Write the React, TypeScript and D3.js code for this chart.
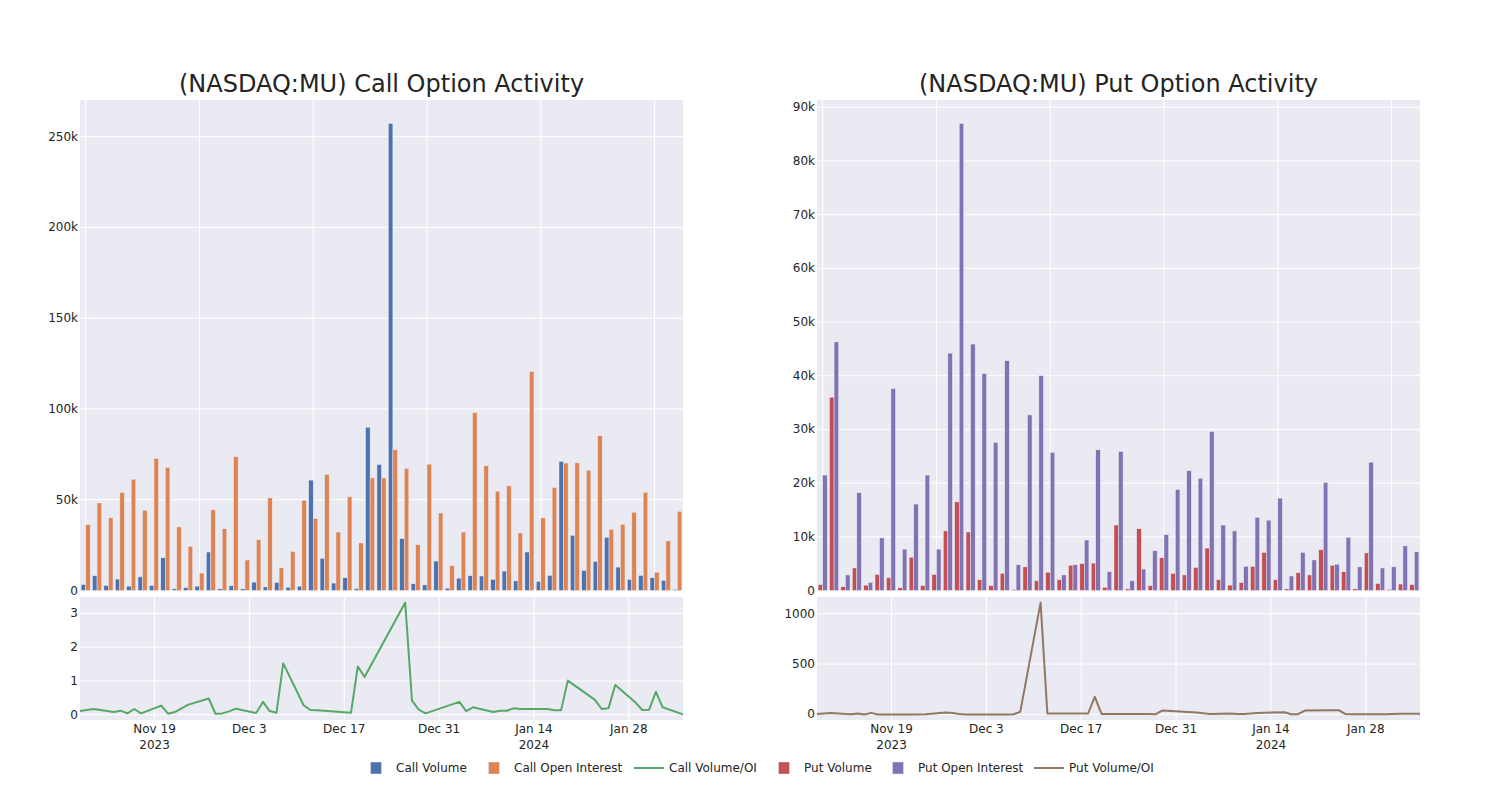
import React from 'react';
import * as d3 from 'd3';

// ---------- data ----------
const dates = [
  '2023-11-08', '2023-11-10', '2023-11-13', '2023-11-14', '2023-11-15', '2023-11-16', '2023-11-17',
  '2023-11-20', '2023-11-21', '2023-11-22', '2023-11-24', '2023-11-27', '2023-11-28', '2023-11-29',
  '2023-11-30', '2023-12-01', '2023-12-04', '2023-12-05', '2023-12-06', '2023-12-07', '2023-12-08',
  '2023-12-11', '2023-12-12', '2023-12-13', '2023-12-18', '2023-12-19', '2023-12-20', '2023-12-26',
  '2023-12-27', '2023-12-28', '2023-12-29', '2024-01-03', '2024-01-04', '2024-01-05', '2024-01-08',
  '2024-01-09', '2024-01-10', '2024-01-11', '2024-01-12', '2024-01-16', '2024-01-17', '2024-01-18',
  '2024-01-19', '2024-01-23', '2024-01-24', '2024-01-25', '2024-01-26', '2024-01-29', '2024-01-30',
  '2024-01-31', '2024-02-01', '2024-02-02', '2024-02-05',
];

const callVolume = [
  3300, 8100, 2800, 6300, 2400, 7500, 2800, 18000, 900, 1600, 2400, 21200, 900, 2600, 900, 4600,
  2000, 4400, 1800, 2400, 60800, 17700, 4100, 7000, 1100, 89900, 69400, 257300, 28500, 3700, 3100,
  16200, 1300, 6800, 8100, 8000, 6100, 10700, 5300, 21200, 5000, 8300, 71100, 30400, 11000, 16000,
  29300, 12900, 6100, 8300, 7000, 5500, 600,
];
const callOpenInterest = [
  36300, 48200, 40000, 54000, 61300, 44200, 72700, 67800, 35000, 24300, 9600, 44400, 34000, 73700,
  16800, 28000, 51000, 12500, 21500, 49700, 39600, 63900, 32200, 51600, 26200, 62000, 62000, 77500,
  67200, 25200, 69600, 42700, 13600, 32200, 98000, 68700, 54700, 57600, 31700, 120600, 40000, 56700,
  70200, 70300, 66300, 85300, 33700, 36500, 43100, 54100, 10100, 27300, 43600,
];
const callVolumeOI = [
  0.11, 0.17, 0.08, 0.12, 0.04, 0.17, 0.04, 0.27, 0.03, 0.08, 0.3, 0.48, 0.03, 0.04, 0.1, 0.18,
  0.05, 0.38, 0.11, 0.06, 1.52, 0.28, 0.14, 0.13, 0.06, 1.43, 1.12, 3.32, 0.42, 0.15, 0.04, 0.38,
  0.11, 0.22, 0.08, 0.12, 0.12, 0.19, 0.17, 0.17, 0.13, 0.13, 1.01, 0.44, 0.17, 0.19, 0.88, 0.36,
  0.14, 0.15, 0.68, 0.22, 0.01,
];
const putVolume = [
  1100, 36000, 700, 4200, 1000, 3000, 2400, 500, 6200, 900, 3000, 11100, 16500, 10900, 2000, 900,
  3200, 200, 4400, 1800, 3400, 2000, 4700, 5000, 5100, 600, 12200, 300, 11500, 900, 6100, 3200,
  2900, 4300, 7900, 2000, 1000, 1500, 4500, 7100, 2000, 300, 3300, 2900, 7600, 4700, 3500, 300,
  7000, 1300, 200, 1200, 1100,
];
const putOpenInterest = [
  21500, 46300, 2900, 18200, 1500, 9800, 37600, 7700, 16100, 21500, 7700, 44200, 87000, 45900,
  40400, 27600, 42800, 4800, 32700, 40000, 25700, 2900, 4800, 9400, 26200, 3500, 25900, 1800, 4000,
  7400, 10400, 18800, 22300, 20900, 29600, 12200, 11100, 4500, 13600, 13100, 17200, 2700, 7100, 5700,
  20100, 4900, 9900, 4400, 23900, 4200, 4400, 8300, 7200,
];
const putVolumeOI = [
  5, 15, 2, 10, 0, 15, 0, 0, 0, 0, 2, 20, 15, 5, 0, 0, 0, 0, 0, 2, 25, 1110, 10, 8, 8, 175, 5, 3,
  3, 2, 40, 20, 12, 3, 8, 3, 5, 10, 15, 22, 2, 2, 38, 42, 42, 3, 2, 1, 1, 2, 5, 6, 6,
];

const callYTicks = [0, 50000, 100000, 150000, 200000, 250000];
const putYTicks = [0, 10000, 20000, 30000, 40000, 50000, 60000, 70000, 80000, 90000];
const callRatioTicks = [0, 1, 2, 3];
const putRatioTicks = [0, 500, 1000];
const indexGridTicks = [0, 10, 20, 30, 40, 50];
const dateTicks = ['2023-11-19', '2023-12-03', '2023-12-17', '2023-12-31', '2024-01-14', '2024-01-28'];
const dateTickLabels = ['Nov 19', 'Dec 3', 'Dec 17', 'Dec 31', 'Jan 14', 'Jan 28'];
const dateTickYears = ['2023', '', '', '', '2024', ''];

const legendLabels = ['Call Volume', 'Call Open Interest', 'Call Volume/OI', 'Put Volume', 'Put Open Interest', 'Put Volume/OI'];

// ---------- style ----------
const FONT = '"DejaVu Sans", verdana, arial, sans-serif';
const TEXT = 'rgb(36,36,36)';
const BG = 'rgb(234,234,242)';
const COLORS = {
  callVol: 'rgb(76,114,176)',
  callOI: 'rgb(221,132,82)',
  callLine: 'rgb(85,168,104)',
  putVol: 'rgb(196,78,82)',
  putOI: 'rgb(129,114,179)',
  putLine: 'rgb(147,120,96)',
};

const parse = d3.utcParse('%Y-%m-%d');
const fmtK = d3.format('~s');

type PanelProps = {
  x0: number;
  x1: number;
  title: string;
  vol: number[];
  oi: number[];
  ratio: number[];
  yTicks: number[];
  rTicks: number[];
  volColor: string;
  oiColor: string;
  lineColor: string;
  ratioFmt: (v: number) => string;
};

const TOP_Y0 = 100;
const TOP_Y1 = 590.5;
const BOT_Y0 = 597;
const BOT_Y1 = 720;

function Panel(p: PanelProps) {
  const n = p.vol.length;
  const xi = d3.scaleLinear().domain([-0.5, n - 0.5]).range([p.x0, p.x1]);
  const maxV = d3.max([...p.vol, ...p.oi]) as number;
  const y = d3.scaleLinear().domain([0, maxV * 1.05]).range([TOP_Y1, TOP_Y0]);
  const parsed = dates.map((d) => parse(d) as Date);
  const xd = d3.scaleUtc().domain([parsed[0], parsed[parsed.length - 1]]).range([p.x0, p.x1]);
  const rMin = d3.min(p.ratio) as number;
  const rMax = d3.max(p.ratio) as number;
  const pad = (rMax - rMin) * 0.05;
  const yr = d3.scaleLinear().domain([rMin - pad, rMax + pad]).range([BOT_Y1, BOT_Y0]);
  const line = d3
    .line<number>()
    .x((_, i) => xd(parsed[i]))
    .y((v) => yr(v));
  const groupW = 0.8;
  const barW = groupW / 2;
  return (
    <g>
      <text
        x={(p.x0 + p.x1) / 2}
        y={92}
        textAnchor="middle"
        fontSize={24}
        fill={TEXT}
        fontFamily={FONT}
      >
        {p.title}
      </text>
      {/* top plot */}
      <rect x={p.x0} y={TOP_Y0} width={p.x1 - p.x0} height={TOP_Y1 - TOP_Y0} fill={BG} />
      {indexGridTicks.map((t) => (
        <line key={'vx' + t} x1={xi(t)} x2={xi(t)} y1={TOP_Y0} y2={TOP_Y1} stroke="white" strokeWidth={1} />
      ))}
      {p.yTicks.map((t) => (
        <g key={'yt' + t}>
          <line x1={p.x0} x2={p.x1} y1={y(t)} y2={y(t)} stroke="white" strokeWidth={1} />
          <text x={p.x0 - 2} y={y(t) + 4} textAnchor="end" fontSize={12} fill={TEXT} fontFamily={FONT}>
            {fmtK(t)}
          </text>
        </g>
      ))}
      {p.vol.map((v, i) => (
        <rect
          key={'v' + i}
          x={xi(i - groupW / 2)}
          width={xi(barW) - xi(0)}
          y={y(v)}
          height={y(0) - y(v)}
          fill={p.volColor}
          stroke={BG}
          strokeWidth={0.5}
        />
      ))}
      {p.oi.map((v, i) => (
        <rect
          key={'o' + i}
          x={xi(i - groupW / 2 + barW)}
          width={xi(barW) - xi(0)}
          y={y(v)}
          height={y(0) - y(v)}
          fill={p.oiColor}
          stroke={BG}
          strokeWidth={0.5}
        />
      ))}
      {/* bottom plot */}
      <rect x={p.x0} y={BOT_Y0} width={p.x1 - p.x0} height={BOT_Y1 - BOT_Y0} fill={BG} />
      {dateTicks.map((d, i) => {
        const xx = xd(parse(d) as Date);
        return (
          <g key={'dt' + d}>
            <line x1={xx} x2={xx} y1={BOT_Y0} y2={BOT_Y1} stroke="white" strokeWidth={1} />
            <text x={xx} y={733} textAnchor="middle" fontSize={12} fill={TEXT} fontFamily={FONT}>
              {dateTickLabels[i]}
            </text>
            {dateTickYears[i] && (
              <text x={xx} y={749} textAnchor="middle" fontSize={12} fill={TEXT} fontFamily={FONT}>
                {dateTickYears[i]}
              </text>
            )}
          </g>
        );
      })}
      {p.rTicks.map((t) => (
        <g key={'rt' + t}>
          <line x1={p.x0} x2={p.x1} y1={yr(t)} y2={yr(t)} stroke="white" strokeWidth={1} />
          <text x={p.x0 - 2} y={yr(t) + 4} textAnchor="end" fontSize={12} fill={TEXT} fontFamily={FONT}>
            {p.ratioFmt(t)}
          </text>
        </g>
      ))}
      <path d={line(p.ratio) || ''} fill="none" stroke={p.lineColor} strokeWidth={2} strokeLinejoin="round" />
    </g>
  );
}

// legend layout: item start x positions
const legendStarts = [356, 474, 629, 764, 878, 1029];
const legendKinds = ['bar', 'bar', 'line', 'bar', 'bar', 'line'];
const legendColors = [COLORS.callVol, COLORS.callOI, COLORS.callLine, COLORS.putVol, COLORS.putOI, COLORS.putLine];

export default function App() {
  const LY = 768;
  return (
    <svg
      width={1500}
      height={800}
      style={{ position: 'absolute', left: 0, top: 0, background: 'white' }}
      fontFamily={FONT}
    >
      <rect x={0} y={0} width={1500} height={800} fill="white" />
      <Panel
        x0={80}
        x1={683}
        title="(NASDAQ:MU) Call Option Activity"
        vol={callVolume}
        oi={callOpenInterest}
        ratio={callVolumeOI}
        yTicks={callYTicks}
        rTicks={callRatioTicks}
        volColor={COLORS.callVol}
        oiColor={COLORS.callOI}
        lineColor={COLORS.callLine}
        ratioFmt={(v) => String(v)}
      />
      <Panel
        x0={817}
        x1={1420}
        title="(NASDAQ:MU) Put Option Activity"
        vol={putVolume}
        oi={putOpenInterest}
        ratio={putVolumeOI}
        yTicks={putYTicks}
        rTicks={putRatioTicks}
        volColor={COLORS.putVol}
        oiColor={COLORS.putOI}
        lineColor={COLORS.putLine}
        ratioFmt={(v) => String(v)}
      />
      {legendLabels.map((lab, i) => {
        const sx = legendStarts[i];
        return (
          <g key={lab}>
            {legendKinds[i] === 'bar' ? (
              <rect x={sx + 20 - 5.5} y={LY - 6} width={11} height={12} fill={legendColors[i]} stroke={BG} strokeWidth={0.5} />
            ) : (
              <line x1={sx + 5} x2={sx + 35} y1={LY} y2={LY} stroke={legendColors[i]} strokeWidth={2} />
            )}
            <text x={sx + 40} y={LY + 4} fontSize={12} fill={TEXT} fontFamily={FONT}>
              {lab}
            </text>
          </g>
        );
      })}
    </svg>
  );
}
